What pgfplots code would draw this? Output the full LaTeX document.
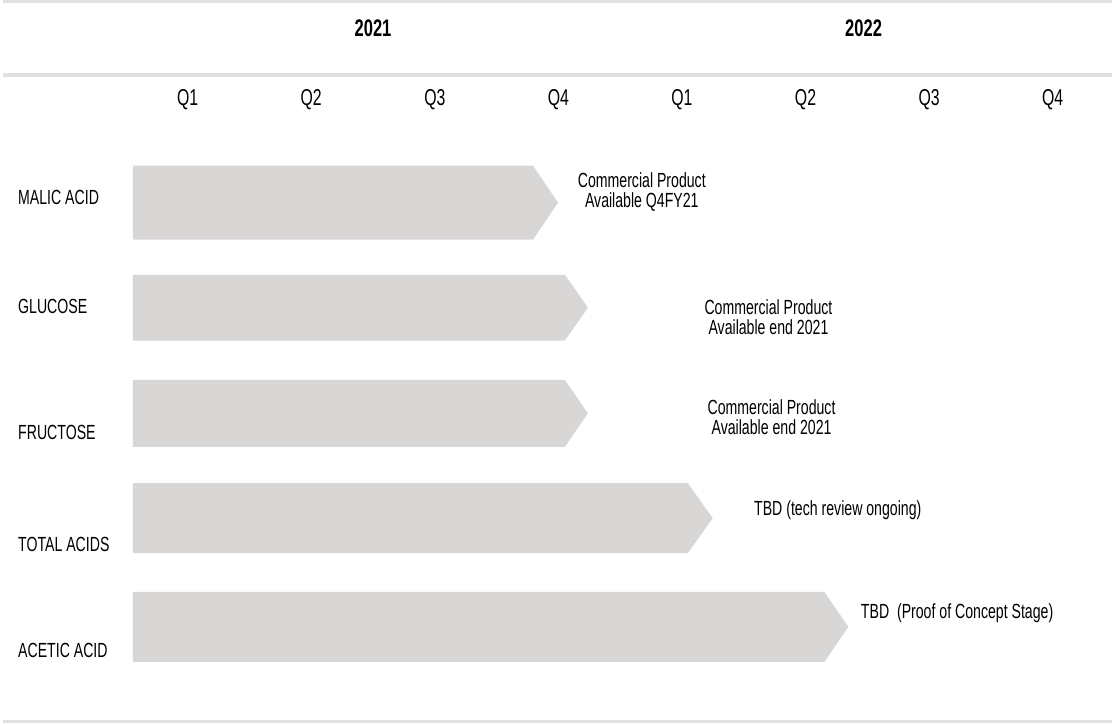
\documentclass[border=0pt]{standalone}
\usepackage{fontspec}
\setmainfont{Liberation Sans}[FakeStretch=0.69]
\usepackage{pgfplots}
\pgfplotsset{compat=1.18}
\definecolor{barfill}{RGB}{217,214,214}
\definecolor{rulegray}{RGB}{224,224,224}
\definecolor{txt}{RGB}{25,25,25}

\begin{document}
\begin{tikzpicture}
\begin{axis}[
	width=1114pt, height=725pt, scale only axis,
	xmin=-1.0186, xmax=7.98,
	ymin=-1.9106, ymax=4.913, y dir=reverse,
	hide axis, clip=false,
	every node/.append style={text=txt, inner sep=0pt},
	]
	% page frame, keeps bounding box fixed
	\path (rel axis cs:0,0) rectangle (rel axis cs:1,1);
	% separator rules
	\draw[rulegray, line width=3pt] (axis cs:-0.994,-1.892) -- (axis cs:7.98,-1.892);
	\draw[rulegray, line width=4pt] (axis cs:-0.994,-1.205) -- (axis cs:7.98,-1.205);
	\draw[rulegray, line width=3pt] (axis cs:-0.994,4.894) -- (axis cs:7.98,4.894);

	% years
	\node[font=\fontsize{24}{26}\selectfont\bfseries] at (axis cs:2.0,-1.647) {2021};
	\node[font=\fontsize{24}{26}\selectfont\bfseries] at (axis cs:5.97,-1.647) {2022};
	% quarters
	\node[font=\fontsize{23}{26}\selectfont] at (axis cs:0.5,-0.969) {Q1};
	\node[font=\fontsize{23}{26}\selectfont] at (axis cs:1.5,-0.969) {Q2};
	\node[font=\fontsize{23}{26}\selectfont] at (axis cs:2.5,-0.969) {Q3};
	\node[font=\fontsize{23}{26}\selectfont] at (axis cs:3.5,-0.969) {Q4};
	\node[font=\fontsize{23}{26}\selectfont] at (axis cs:4.5,-0.969) {Q1};
	\node[font=\fontsize{23}{26}\selectfont] at (axis cs:5.5,-0.969) {Q2};
	\node[font=\fontsize{23}{26}\selectfont] at (axis cs:6.5,-0.969) {Q3};
	\node[font=\fontsize{23}{26}\selectfont] at (axis cs:7.5,-0.969) {Q4};

	% chevrons: start, body end, tip (quarters), row +- half height
	\addplot[fill=barfill, draw=none] coordinates {(0.056,-0.348) (3.295,-0.348) (3.497,0) (3.295,0.348) (0.056,0.348)};
	\addplot[fill=barfill, draw=none] coordinates {(0.056,0.68) (3.553,0.68) (3.739,0.99) (3.553,1.30) (0.056,1.30)};
	\addplot[fill=barfill, draw=none] coordinates {(0.056,1.672) (3.553,1.672) (3.739,1.987) (3.553,2.302) (0.056,2.302)};
	\addplot[fill=barfill, draw=none] coordinates {(0.056,2.645) (4.547,2.645) (4.749,2.975) (4.547,3.305) (0.056,3.305)};
	\addplot[fill=barfill, draw=none] coordinates {(0.056,3.671) (5.653,3.671) (5.847,4.0) (5.653,4.329) (0.056,4.329)};

	% row labels
	\node[anchor=west, font=\fontsize{20.5}{22}\selectfont] at (axis cs:-0.90,-0.052) {MALIC ACID};
	\node[anchor=west, font=\fontsize{20.5}{22}\selectfont] at (axis cs:-0.90,0.98) {GLUCOSE};
	\node[anchor=west, font=\fontsize{20.5}{22}\selectfont] at (axis cs:-0.90,2.164) {FRUCTOSE};
	\node[anchor=west, font=\fontsize{20.5}{22}\selectfont] at (axis cs:-0.90,3.219) {TOTAL ACIDS};
	\node[anchor=west, font=\fontsize{20.5}{22}\selectfont] at (axis cs:-0.90,4.226) {ACETIC ACID};

	% milestone notes
	\node[align=center, font=\fontsize{20.5}{20}\selectfont] at (axis cs:4.175,-0.104) {Commercial Product\\Available Q4FY21};
	\node[align=center, font=\fontsize{20.5}{20}\selectfont] at (axis cs:5.20,1.08) {Commercial Product\\Available end 2021};
	\node[align=center, font=\fontsize{20.5}{20}\selectfont] at (axis cs:5.225,2.02) {Commercial Product\\Available end 2021};
	\node[anchor=west, font=\fontsize{20.5}{22}\selectfont] at (axis cs:5.056,2.90) {TBD (tech review ongoing)};
	\node[anchor=west, font=\fontsize{20.5}{22}\selectfont] at (axis cs:5.92,3.87) {TBD\ \ (Proof of Concept Stage)};
\end{axis}
\end{tikzpicture}
\end{document}
